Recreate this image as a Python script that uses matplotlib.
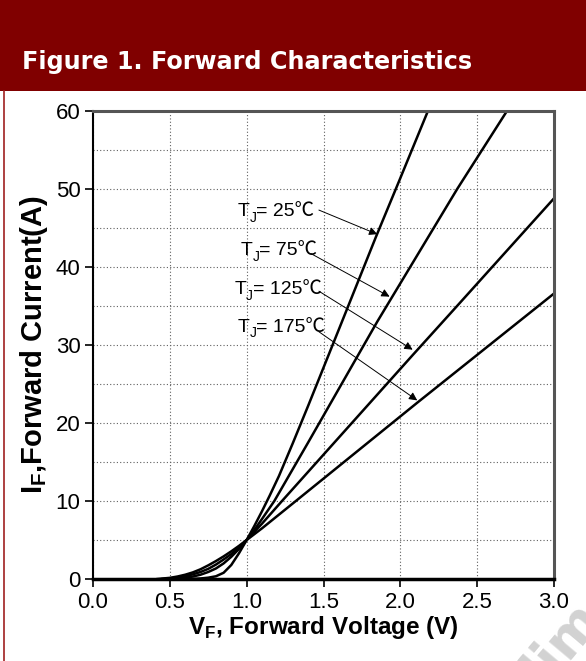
import matplotlib
matplotlib.use("Agg")
import matplotlib.pyplot as plt
from matplotlib import font_manager
from matplotlib.patches import Rectangle
from matplotlib.lines import Line2D

# forward voltage (V) / forward current (A)
vf_25 = [0.60, 0.65, 0.70, 0.75, 0.80, 0.85, 0.90, 0.95, 1.00, 1.05, 1.10, 1.15, 1.21, 1.30, 1.40, 1.60, 1.84, 2.00, 2.19]
if_25 = [0.0, 0.02, 0.07, 0.17, 0.35, 0.80, 1.80, 3.30, 5.0, 6.8, 8.7, 10.7, 13.2, 17.4, 22.2, 32.0, 43.8, 51.4, 60.5]

vf_75 = [0.50, 0.55, 0.60, 0.65, 0.70, 0.75, 0.80, 0.85, 0.90, 0.95, 1.00, 1.05, 1.10, 1.18, 1.40, 1.85, 2.37, 2.71]
if_75 = [0.0, 0.05, 0.15, 0.32, 0.55, 0.90, 1.35, 2.00, 2.85, 3.85, 5.0, 6.3, 7.7, 10.0, 17.5, 33.0, 50.0, 60.5]

vf_125 = [0.45, 0.50, 0.55, 0.60, 0.65, 0.70, 0.75, 0.80, 0.85, 0.90, 0.95, 1.00, 1.05, 1.10, 1.23, 2.08, 2.36, 3.00]
if_125 = [0.0, 0.08, 0.18, 0.35, 0.60, 0.90, 1.30, 1.85, 2.50, 3.20, 4.05, 5.0, 6.05, 7.10, 10.0, 28.7, 34.8, 48.8]

vf_175 = [0.42, 0.50, 0.55, 0.60, 0.65, 0.70, 0.75, 0.80, 0.85, 0.90, 0.95, 1.00, 1.05, 1.10, 1.32, 2.11, 3.00]
if_175 = [0.0, 0.15, 0.32, 0.55, 0.85, 1.25, 1.75, 2.30, 2.90, 3.55, 4.25, 5.0, 5.75, 6.5, 10.0, 22.6, 36.6]

labels = ["25", "75", "125", "175"]
# label anchor, arrow tail and arrow tip in data units
label_xy = [(0.94, 47.1), (0.96, 42.1), (0.92, 37.1), (0.94, 32.3)]
arrow_tail = [(1.47, 47.3), (1.42, 41.7), (1.47, 36.9), (1.47, 31.7)]
arrow_tip = [(1.85, 44.2), (1.93, 36.2), (2.08, 29.4), (2.11, 22.9)]

installed = {f.name for f in font_manager.fontManager.ttflist}
if "Liberation Sans Narrow" in installed:
    base = "Liberation Sans Narrow"
    tick_size, xlab_size = 18, 20.5
else:
    base = "Liberation Sans"
    tick_size, xlab_size = 16, 17.5
cjk = [base, "Noto Sans CJK SC", "DejaVu Sans"]

fig = plt.figure(figsize=(5.86, 6.61), dpi=100)

# header band and left rule
fig.patches.append(Rectangle((0, 1 - 91 / 661), 1, 91 / 661, transform=fig.transFigure,
                             facecolor="#800000", edgecolor="none", zorder=0))
fig.text(22 / 586, 1 - 62 / 661, "Figure 1. Forward Characteristics", color="white",
         fontsize=17.2, fontweight="bold", family="DejaVu Sans",
         va="center", ha="left")
fig.lines.append(Line2D([4 / 586, 4 / 586], [0, 1 - 91 / 661], transform=fig.transFigure,
                        color="#a02020", lw=1.2))

# faint watermark in the corner
fig.text(0.96, -0.05, "lim", fontsize=38, color="#d2d2d2", rotation=50,
         ha="center", va="bottom", family="DejaVu Sans", fontweight="bold", zorder=0)

ax = fig.add_axes([93 / 586, 1 - 579 / 661, 461 / 586, 468 / 661])

for v, i in [(vf_25, if_25), (vf_75, if_75), (vf_125, if_125), (vf_175, if_175)]:
    ax.plot(v, i, color="black", lw=1.8, solid_joinstyle="round")

ax.set_xlim(0, 3)
ax.set_ylim(0, 60)
ax.set_xticks([0, 0.5, 1.0, 1.5, 2.0, 2.5, 3.0])
ax.set_xticklabels(["0.0", "0.5", "1.0", "1.5", "2.0", "2.5", "3.0"])
ax.set_yticks(range(0, 61, 10))
ax.set_yticks(range(5, 60, 10), minor=True)
ax.tick_params(axis="both", which="major", direction="out", length=6, width=1.2,
               labelsize=tick_size, pad=3)
ax.tick_params(axis="y", which="minor", length=0)
for t in ax.get_xticklabels() + ax.get_yticklabels():
    t.set_family(base)

ax.grid(True, which="both", axis="y", linestyle=(0, (1, 2)), color="#606060", lw=0.8)
ax.grid(True, which="major", axis="x", linestyle=(0, (1, 2)), color="#606060", lw=0.8)

ax.spines["left"].set_linewidth(1.5)
ax.spines["bottom"].set_linewidth(2.5)
ax.spines["top"].set_linewidth(2.2)
ax.spines["right"].set_linewidth(2.2)
ax.spines["top"].set_color("#555555")
ax.spines["right"].set_color("#555555")

ax.set_xlabel(r"V$_\mathregular{F}$, Forward Voltage (V)", fontsize=xlab_size,
              fontweight="bold", family=base, labelpad=1)
ax.set_ylabel(r"I$_\mathregular{F}$,Forward Current(A)", fontsize=21, fontweight="bold",
              family="Liberation Sans", labelpad=4)

# T_J labels: "T", subscript "J", then the rest (℃ comes from the CJK font)
for lab, (lx, ly), tail, tip in zip(labels, label_xy, arrow_tail, arrow_tip):
    t1 = ax.text(lx, ly, "T", fontsize=14, family=cjk, va="center", ha="left")
    t2 = ax.annotate("J", xy=(1, 0), xycoords=t1, xytext=(0, -3.5),
                     textcoords="offset points", fontsize=10, family=cjk,
                     va="bottom", ha="left")
    ax.annotate("= " + lab + "\u2103", xy=(1, 0), xycoords=(t2, t1), fontsize=14,
                family=cjk, va="bottom", ha="left")
    ax.annotate("", xy=tip, xytext=tail,
                arrowprops=dict(arrowstyle="-|>", color="black", lw=0.7,
                                mutation_scale=12, shrinkA=0, shrinkB=0))

fig.savefig("out.png", dpi=100)
